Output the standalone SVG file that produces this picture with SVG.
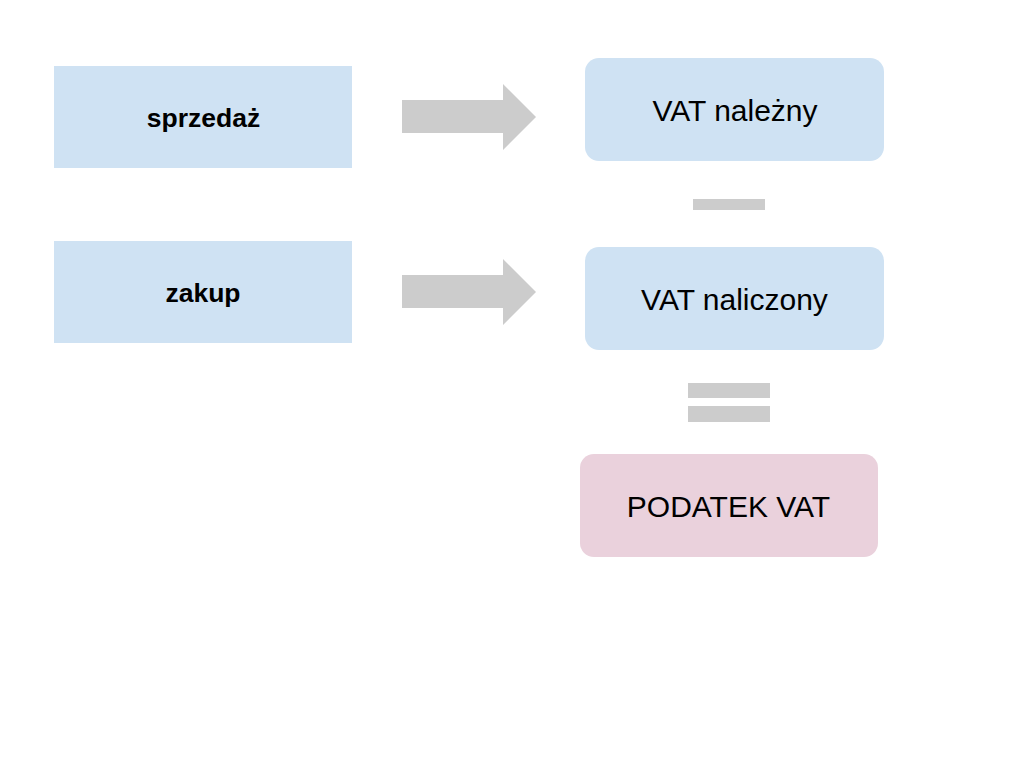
<svg xmlns="http://www.w3.org/2000/svg" width="1024" height="768" viewBox="0 0 1024 768">
<style>
.bg{fill:#ffffff}
.blue{fill:#cfe2f3}
.pink{fill:#ead1dc}
.gray{fill:#cccccc}
.lbl{font-family:"Liberation Sans",Arial,sans-serif;fill:#000000;text-anchor:middle}
.b{font-weight:bold;font-size:26.5px}
.r{font-size:30px}
</style>
<rect class="bg" x="0" y="0" width="1024" height="768"/>
<g id="sprzedaz">
<rect class="blue" x="54" y="66" width="298" height="102"/>
<text class="lbl b" x="203.5" y="127">sprzedaż</text>
</g>
<g id="zakup">
<rect class="blue" x="54" y="241" width="298" height="102"/>
<text class="lbl b" x="203" y="302">zakup</text>
</g>
<g id="vat-nalezny">
<rect class="blue" x="585" y="58" width="299" height="103" rx="14"/>
<text class="lbl r" x="735" y="121">VAT należny</text>
</g>
<g id="vat-naliczony">
<rect class="blue" x="585" y="247" width="299" height="103" rx="14"/>
<text class="lbl r" x="734.5" y="310">VAT naliczony</text>
</g>
<g id="podatek-vat">
<rect class="pink" x="580" y="454" width="298" height="103" rx="14"/>
<text class="lbl r" x="728.5" y="517">PODATEK VAT</text>
</g>
<g id="connectors">
<path class="gray" d="M402,100 H503 V84 L536,117 L503,150 V133 H402 Z"/>
<path class="gray" d="M402,275 H503 V259 L536,292 L503,325 V308 H402 Z"/>
<rect class="gray" x="693" y="199" width="72" height="11"/>
<rect class="gray" x="688" y="383" width="82" height="15"/>
<rect class="gray" x="688" y="406" width="82" height="16"/>
</g>
</svg>
